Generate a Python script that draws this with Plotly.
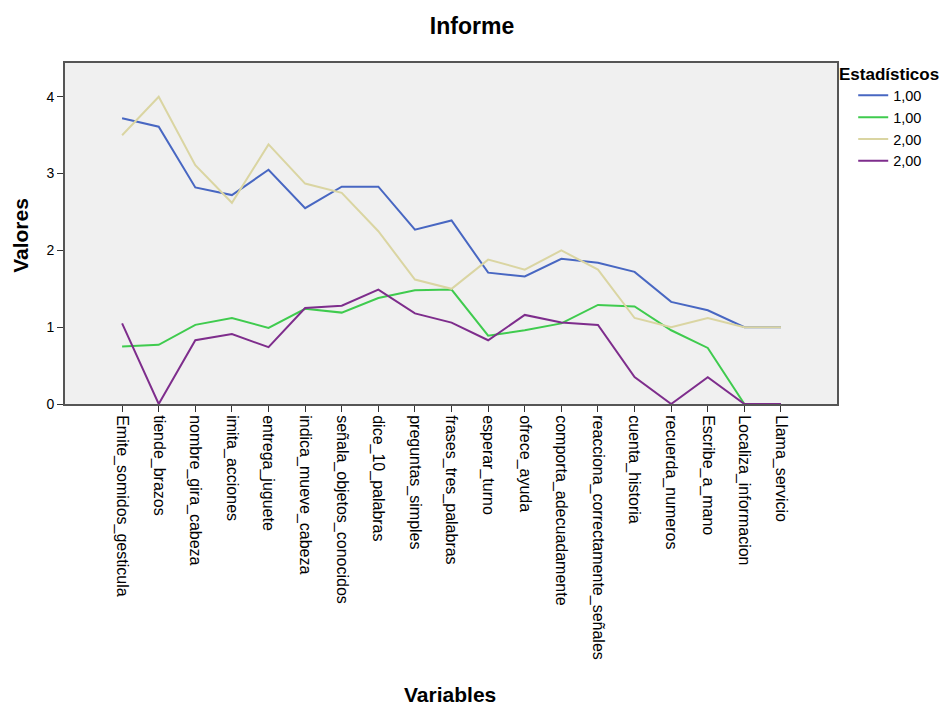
import plotly.graph_objects as go

categories = ["Emite_somidos_gesticula", "tiende_brazos", "nombre_gira_cabeza", "imita_acciones",
              "entrega_juguete", "indica_mueve_cabeza", "señala_objetos_conocidos", "dice_10_palabras",
              "preguntas_simples", "frases_tres_palabras", "esperar_turno", "ofrece_ayuda",
              "comporta_adecuadamente", "reacciona_correctamente_señales", "cuenta_historia",
              "recuerda_numeros", "Escribe_a_mano", "Localiza_informacion", "Llama_servicio"]

blue_vals = [3.72, 3.61, 2.82, 2.72, 3.05, 2.55, 2.83, 2.83, 2.27, 2.39, 1.71, 1.66, 1.89, 1.84, 1.72, 1.33, 1.22, 1.0, 1.0]
green_vals = [0.75, 0.77, 1.03, 1.12, 0.99, 1.24, 1.19, 1.38, 1.48, 1.49, 0.89, 0.96, 1.05, 1.29, 1.27, 0.96, 0.73, 0.0, 0.0]
tan_vals = [3.50, 4.00, 3.11, 2.62, 3.38, 2.87, 2.75, 2.25, 1.62, 1.50, 1.88, 1.75, 2.00, 1.75, 1.12, 1.0, 1.12, 1.0, 1.0]
purple_vals = [1.05, 0.0, 0.83, 0.91, 0.74, 1.25, 1.28, 1.49, 1.18, 1.06, 0.83, 1.16, 1.06, 1.03, 0.35, 0.0, 0.35, 0.0, 0.0]

series_names = ["1,00", "1,00", "2,00", "2,00"]
series_colors = ["#4867C2", "#3FCB4E", "#DAD5A2", "#7E2D8C"]
series_values = [blue_vals, green_vals, tan_vals, purple_vals]

fig = go.Figure()
for name, color, vals in zip(series_names, series_colors, series_values):
    fig.add_trace(go.Scatter(x=list(range(len(categories))), y=vals, mode="lines", name=name,
                             line=dict(color=color, width=2)))

font_family = "Liberation Sans, Arial, sans-serif"
fig.update_layout(
    width=947, height=706,
    margin=dict(l=57, r=118, t=55, b=310),
    paper_bgcolor="white",
    plot_bgcolor="#F0F0F0",
    font=dict(family=font_family, color="black", size=14),
    title=dict(text="<b>Informe</b>", x=0.49, xanchor="center", xref="container",
               y=0.975, yanchor="middle", yref="container",
               font=dict(size=23, family=font_family, color="black")),
    showlegend=True,
    legend=dict(x=1.021, xanchor="left", y=0.952, yanchor="top", bgcolor="rgba(0,0,0,0)",
                font=dict(size=14.5), tracegroupgap=0, itemwidth=30),
    xaxis=dict(
        range=[-1.56, 19.53],
        tickmode="array", tickvals=list(range(len(categories))), ticktext=categories,
        tickangle=90, ticks="outside", ticklen=6, tickcolor="#333", tickwidth=1,
        showgrid=False, zeroline=False,
        showline=True, linecolor="#555", linewidth=2, mirror=True,
        tickfont=dict(size=16),
    ),
    yaxis=dict(
        range=[0, 4.44],
        tickmode="array", tickvals=[0, 1, 2, 3, 4], ticktext=["0", "1", "2", "3", "4"],
        ticks="outside", ticklen=6, tickcolor="#333", tickwidth=1,
        showgrid=False, zeroline=False,
        showline=True, linecolor="#555", linewidth=2, mirror=True,
        tickfont=dict(size=14),
    ),
    annotations=[
        dict(text="<b>Estadísticos</b>", xref="paper", yref="paper", x=1.0, y=(396 - 67) / 341,
             xanchor="left", yanchor="middle", showarrow=False, font=dict(size=17)),
        dict(text="<b>Variables</b>", xref="paper", yref="paper", x=0.4987, y=(396 - 686) / 341,
             xanchor="center", yanchor="middle", showarrow=False, font=dict(size=21)),
        dict(text="<b>Valores</b>", xref="paper", yref="paper", x=-0.057, y=0.496, textangle=-90,
             xanchor="center", yanchor="middle", showarrow=False, font=dict(size=21)),
    ],
)

fig.write_html("out.html")
